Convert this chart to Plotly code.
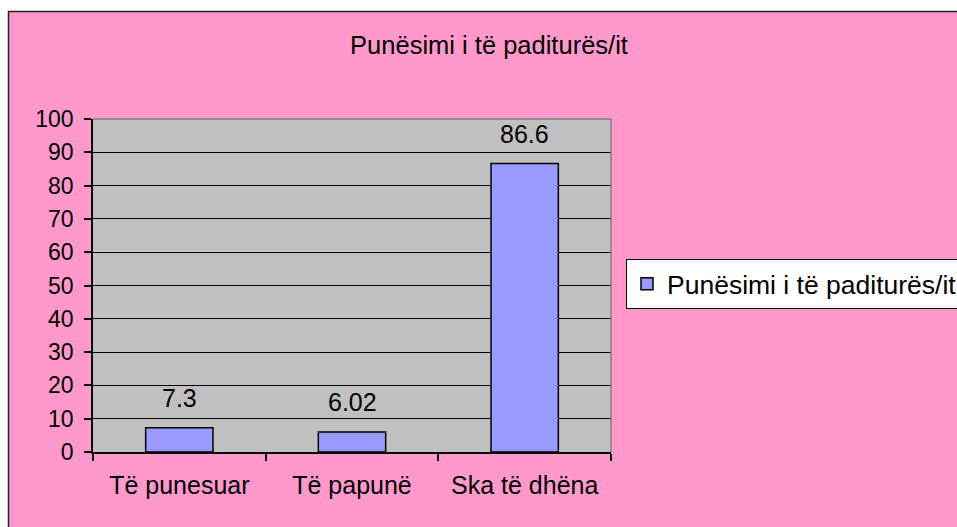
import plotly.graph_objects as go

categories = ["Të punesuar", "Të papunë", "Ska të dhëna"]
values = [7.3, 6.02, 86.6]
value_labels = ["7.3", "6.02", "86.6"]
series_name = "Punësimi i të paditurës/it"
title_text = "Punësimi i të paditurës/it"
y_ticks = [0, 10, 20, 30, 40, 50, 60, 70, 80, 90, 100]

W, H = 957, 527
L, R, T, B = 93, 611, 119, 452
pw, ph = R - L, B - T

def px_x(x):
    return (x - L) / pw

def px_y(y):
    return (B - y) / ph

FONT = "Liberation Sans, Arial, sans-serif"
FS = 25

fig = go.Figure()
fig.add_trace(go.Bar(
    x=categories, y=values, name=series_name,
    marker=dict(color="#9999FF", line=dict(color="black", width=1.5)),
    width=0.39,
    showlegend=True,
))

annotations = [
    dict(x=c, y=v, xref="x", yref="y", text=t, showarrow=False,
         yanchor="bottom", yshift=14, font=dict(size=FS, family=FONT, color="black"))
    for c, v, t in zip(categories, values, value_labels)
]

shapes = [
    dict(type="rect", xref="paper", yref="paper", x0=px_x(-5), x1=px_x(8), y0=px_y(-5), y1=px_y(540),
         fillcolor="white", line=dict(width=0), layer="above"),
    dict(type="rect", xref="paper", yref="paper", x0=px_x(-5), x1=px_x(970), y0=px_y(-5), y1=px_y(11),
         fillcolor="white", line=dict(width=0), layer="above"),
    dict(type="line", xref="paper", yref="paper", x0=px_x(8.5), x1=px_x(8.5), y0=px_y(11), y1=px_y(540),
         line=dict(color="#222222", width=1.5), layer="above"),
    dict(type="line", xref="paper", yref="paper", x0=px_x(8), x1=px_x(970), y0=px_y(11.5), y1=px_y(11.5),
         line=dict(color="#222222", width=1.5), layer="above"),
    dict(type="line", xref="paper", yref="paper", x0=0, x1=1, y0=1, y1=1,
         line=dict(color="#808080", width=1.5), layer="above"),
    dict(type="line", xref="paper", yref="paper", x0=1, x1=1, y0=0, y1=1,
         line=dict(color="#808080", width=1.5), layer="above"),
]

fig.update_layout(
    width=W, height=H,
    margin=dict(l=L, r=W - R, t=T, b=H - B, pad=0, autoexpand=False),
    paper_bgcolor="#FF99CC",
    plot_bgcolor="#C0C0C0",
    font=dict(family=FONT, size=FS, color="black"),
    title=dict(text=title_text, x=px_x(489), xanchor="center", xref="paper",
               y=1 - 45 / H, yanchor="middle", font=dict(size=25.5, family=FONT, color="black")),
    shapes=shapes,
    annotations=annotations,
    showlegend=True,
    legend=dict(x=px_x(626), xanchor="left", y=px_y(284), yanchor="middle",
                bgcolor="white", bordercolor="black", borderwidth=1,
                font=dict(size=26.5, family=FONT, color="black")),
)

fig.update_xaxes(
    type="category", showline=True, linecolor="black", linewidth=1.5,
    ticks="outside", ticklen=7, tickcolor="black", tickwidth=1.5, tickson="boundaries",
    showgrid=False, tickfont=dict(size=FS, family=FONT), ticklabelstandoff=10,
)
fig.update_yaxes(
    range=[0, 100], tickvals=y_ticks, showline=True, linecolor="black", linewidth=1.5,
    ticks="outside", ticklen=7, tickcolor="black", tickwidth=1.5,
    showgrid=True, gridcolor="black", gridwidth=1, zeroline=False,
    tickfont=dict(size=23, family=FONT), ticklabelstandoff=6,
)

fig.write_html("out.html", config={"displayModeBar": False},
               post_script="document.body.style.margin='0px';")
